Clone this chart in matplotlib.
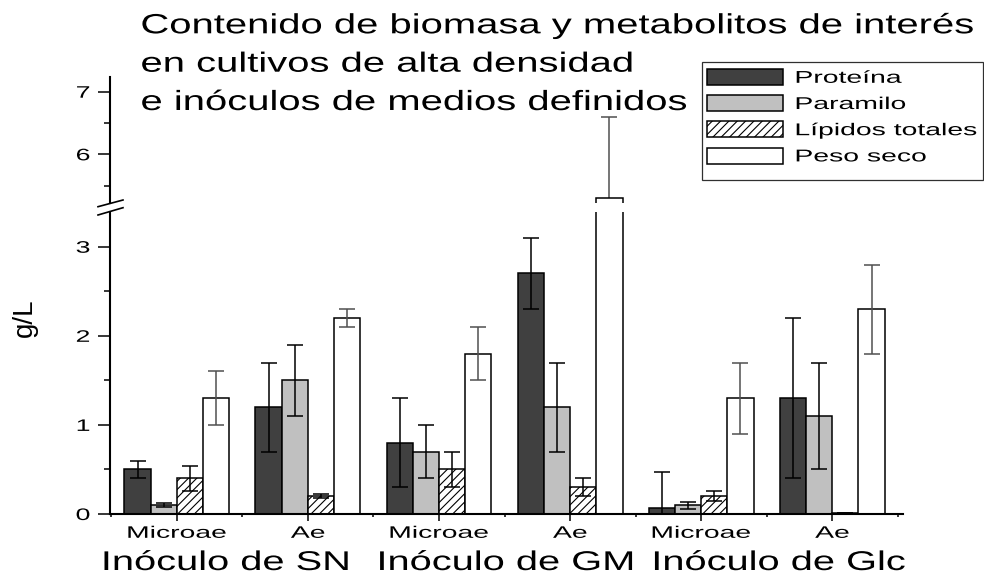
import matplotlib
matplotlib.use("Agg")
import matplotlib.pyplot as plt
import numpy as np
from matplotlib.patheffects import AbstractPathEffect
from matplotlib.patches import Rectangle
from matplotlib.lines import Line2D
from matplotlib.transforms import Affine2D

# strain under each bar group, inoculum under each pair of groups
strains = ["Microae", "Ae", "Microae", "Ae", "Microae", "Ae"]
inocula = ["Inóculo de SN", "Inóculo de GM", "Inóculo de Glc"]
series = ["Proteína", "Paramilo", "Lípidos totales", "Peso seco"]

# g/L, mean and error for every strain/inoculum
proteina = [0.5, 1.2, 0.8, 2.7, 0.07, 1.3]
proteina_err = [0.1, 0.5, 0.5, 0.4, 0.4, 0.9]
paramilo = [0.1, 1.5, 0.7, 1.2, 0.1, 1.1]
paramilo_err = [0.02, 0.4, 0.3, 0.5, 0.04, 0.6]
lipidos = [0.4, 0.2, 0.5, 0.3, 0.2, 0.01]
lipidos_err = [0.14, 0.02, 0.2, 0.1, 0.055, 0.0]
peso_seco = [1.3, 2.2, 1.8, 5.3, 1.3, 2.3]
peso_seco_err = [0.3, 0.1, 0.3, 1.3, 0.4, 0.5]

title_lines = ["Contenido de biomasa y metabolitos de interés",
               "en cultivos de alta densidad",
               "e inóculos de medios definidos"]


class Widen(AbstractPathEffect):
    """Draw text stretched horizontally about its left/right edge or centre."""

    def __init__(self, factor, anchor="center"):
        super().__init__()
        self.factor = factor
        self.anchor = anchor

    def draw_path(self, renderer, gc, tpath, affine, rgbFace=None):
        ext = tpath.transformed(affine).get_extents()
        if self.anchor == "left":
            x0 = ext.x0
        elif self.anchor == "right":
            x0 = ext.x1
        else:
            x0 = (ext.x0 + ext.x1) / 2
        stretch = Affine2D().translate(-x0, 0).scale(self.factor, 1).translate(x0, 0)
        renderer.draw_path(gc, tpath, affine + stretch, rgbFace)


plt.rcParams["font.family"] = ["Liberation Sans", "DejaVu Sans"]
plt.rcParams["hatch.linewidth"] = 0.8

W, H = 984, 575
fig = plt.figure(figsize=(W / 100, H / 100), dpi=100)


def px_box(x0, y0, x1, y1):
    # pixel box measured from the top-left corner -> figure fraction rect
    return [x0 / W, 1 - y1 / H, (x1 - x0) / W, (y1 - y0) / H]


ax_lo = fig.add_axes(px_box(110, 211.7, 903, 514))
ax_hi = fig.add_axes(px_box(110, 77, 903, 203.3))

x = np.arange(len(strains))
width = 0.2
offsets = [-0.3, -0.1, 0.1, 0.3]
values = [proteina, paramilo, lipidos, peso_seco]
errors = [proteina_err, paramilo_err, lipidos_err, peso_seco_err]
faces = ["#404040", "#c0c0c0", "white", "white"]
hatches = [None, None, "////", None]
err_colors = ["black", "black", "black", "#505050"]

handles = []
for ax, err_z in [(ax_lo, 3), (ax_hi, 1)]:
    for i in range(4):
        bars = ax.bar(x + offsets[i], values[i], width, facecolor=faces[i],
                      edgecolor="black", linewidth=1.1, hatch=hatches[i],
                      label=series[i], zorder=2)
        ax.errorbar(x + offsets[i], values[i], yerr=errors[i], fmt="none",
                    ecolor=err_colors[i], elinewidth=1.1, capsize=5.8,
                    capthick=1.1, zorder=err_z)
        if ax is ax_lo:
            handles.append(bars)

ax_lo.set_xlim(-0.51, 5.54)
ax_hi.set_xlim(-0.51, 5.54)
ax_lo.set_ylim(0, 3.393)
ax_hi.set_ylim(5.217, 7.235)

for ax in (ax_lo, ax_hi):
    ax.spines["top"].set_visible(False)
    ax.spines["right"].set_visible(False)
    ax.spines["left"].set_linewidth(1.5)
    ax.spines["bottom"].set_linewidth(1.5)
    ax.tick_params(axis="y", which="major", direction="out", length=8.4,
                   width=1.1, labelsize=12, pad=6)
    ax.tick_params(axis="y", which="minor", direction="out", length=4.3, width=1.1)

ax_hi.spines["bottom"].set_visible(False)
ax_hi.tick_params(axis="x", which="both", bottom=False, labelbottom=False)

ax_lo.set_yticks([0, 1, 2, 3])
ax_lo.set_yticks([0.5, 1.5, 2.5], minor=True)
ax_hi.set_yticks([6, 7])
ax_hi.set_yticks([5.5, 6.5], minor=True)

ax_lo.set_xticks(x, strains)
ax_lo.set_xticks(np.arange(-0.5, 6, 1), minor=True)
ax_lo.tick_params(axis="x", which="major", direction="out", length=5, width=1.1,
                  labelsize=12, pad=3.5)
ax_lo.tick_params(axis="x", which="minor", direction="out", length=2.5, width=1.1)

for lab in ax_lo.get_xticklabels():
    lab.set_path_effects([Widen(1.7)])
for ax in (ax_lo, ax_hi):
    for lab in ax.get_yticklabels():
        lab.set_path_effects([Widen(1.6, "right")])

# axis break marks
for y_left, y_right in [(206.7, 200), (215, 207.7)]:
    fig.add_artist(Line2D([98 / W, 123 / W], [1 - y_left / H, 1 - y_right / H],
                          color="black", lw=1.2))

fig.text(25 / W, 1 - 318 / H, "g/L", rotation=90, ha="center", va="center",
         fontsize=20)

for line, base in zip(title_lines, [33.3, 71.7, 110]):
    fig.text(141 / W, 1 - base / H, line, ha="left", va="baseline", fontsize=20,
             path_effects=[Widen(1.44, "left")])

for name, cx in zip(inocula, [226, 506, 779]):
    fig.text(cx / W, 1 - 570 / H, name, ha="center", va="baseline", fontsize=19.5,
             path_effects=[Widen(1.47)])

fig.add_artist(Rectangle((702 / W, 1 - 180 / H), 281 / W, 118 / H,
                         transform=fig.transFigure, facecolor="white",
                         edgecolor="#303030", lw=0.9, zorder=4))
leg = fig.legend(handles, series, loc="upper left",
                 bbox_to_anchor=(707 / W, 1 - 69 / H), frameon=False,
                 borderpad=0, borderaxespad=0, handlelength=4.47,
                 handleheight=1.06, handletextpad=0.7, labelspacing=0.55,
                 fontsize=12.3)
leg.set_zorder(5)
for t in leg.get_texts():
    t.set_path_effects([Widen(1.66, "left")])

fig.savefig("out.png", dpi=100)
